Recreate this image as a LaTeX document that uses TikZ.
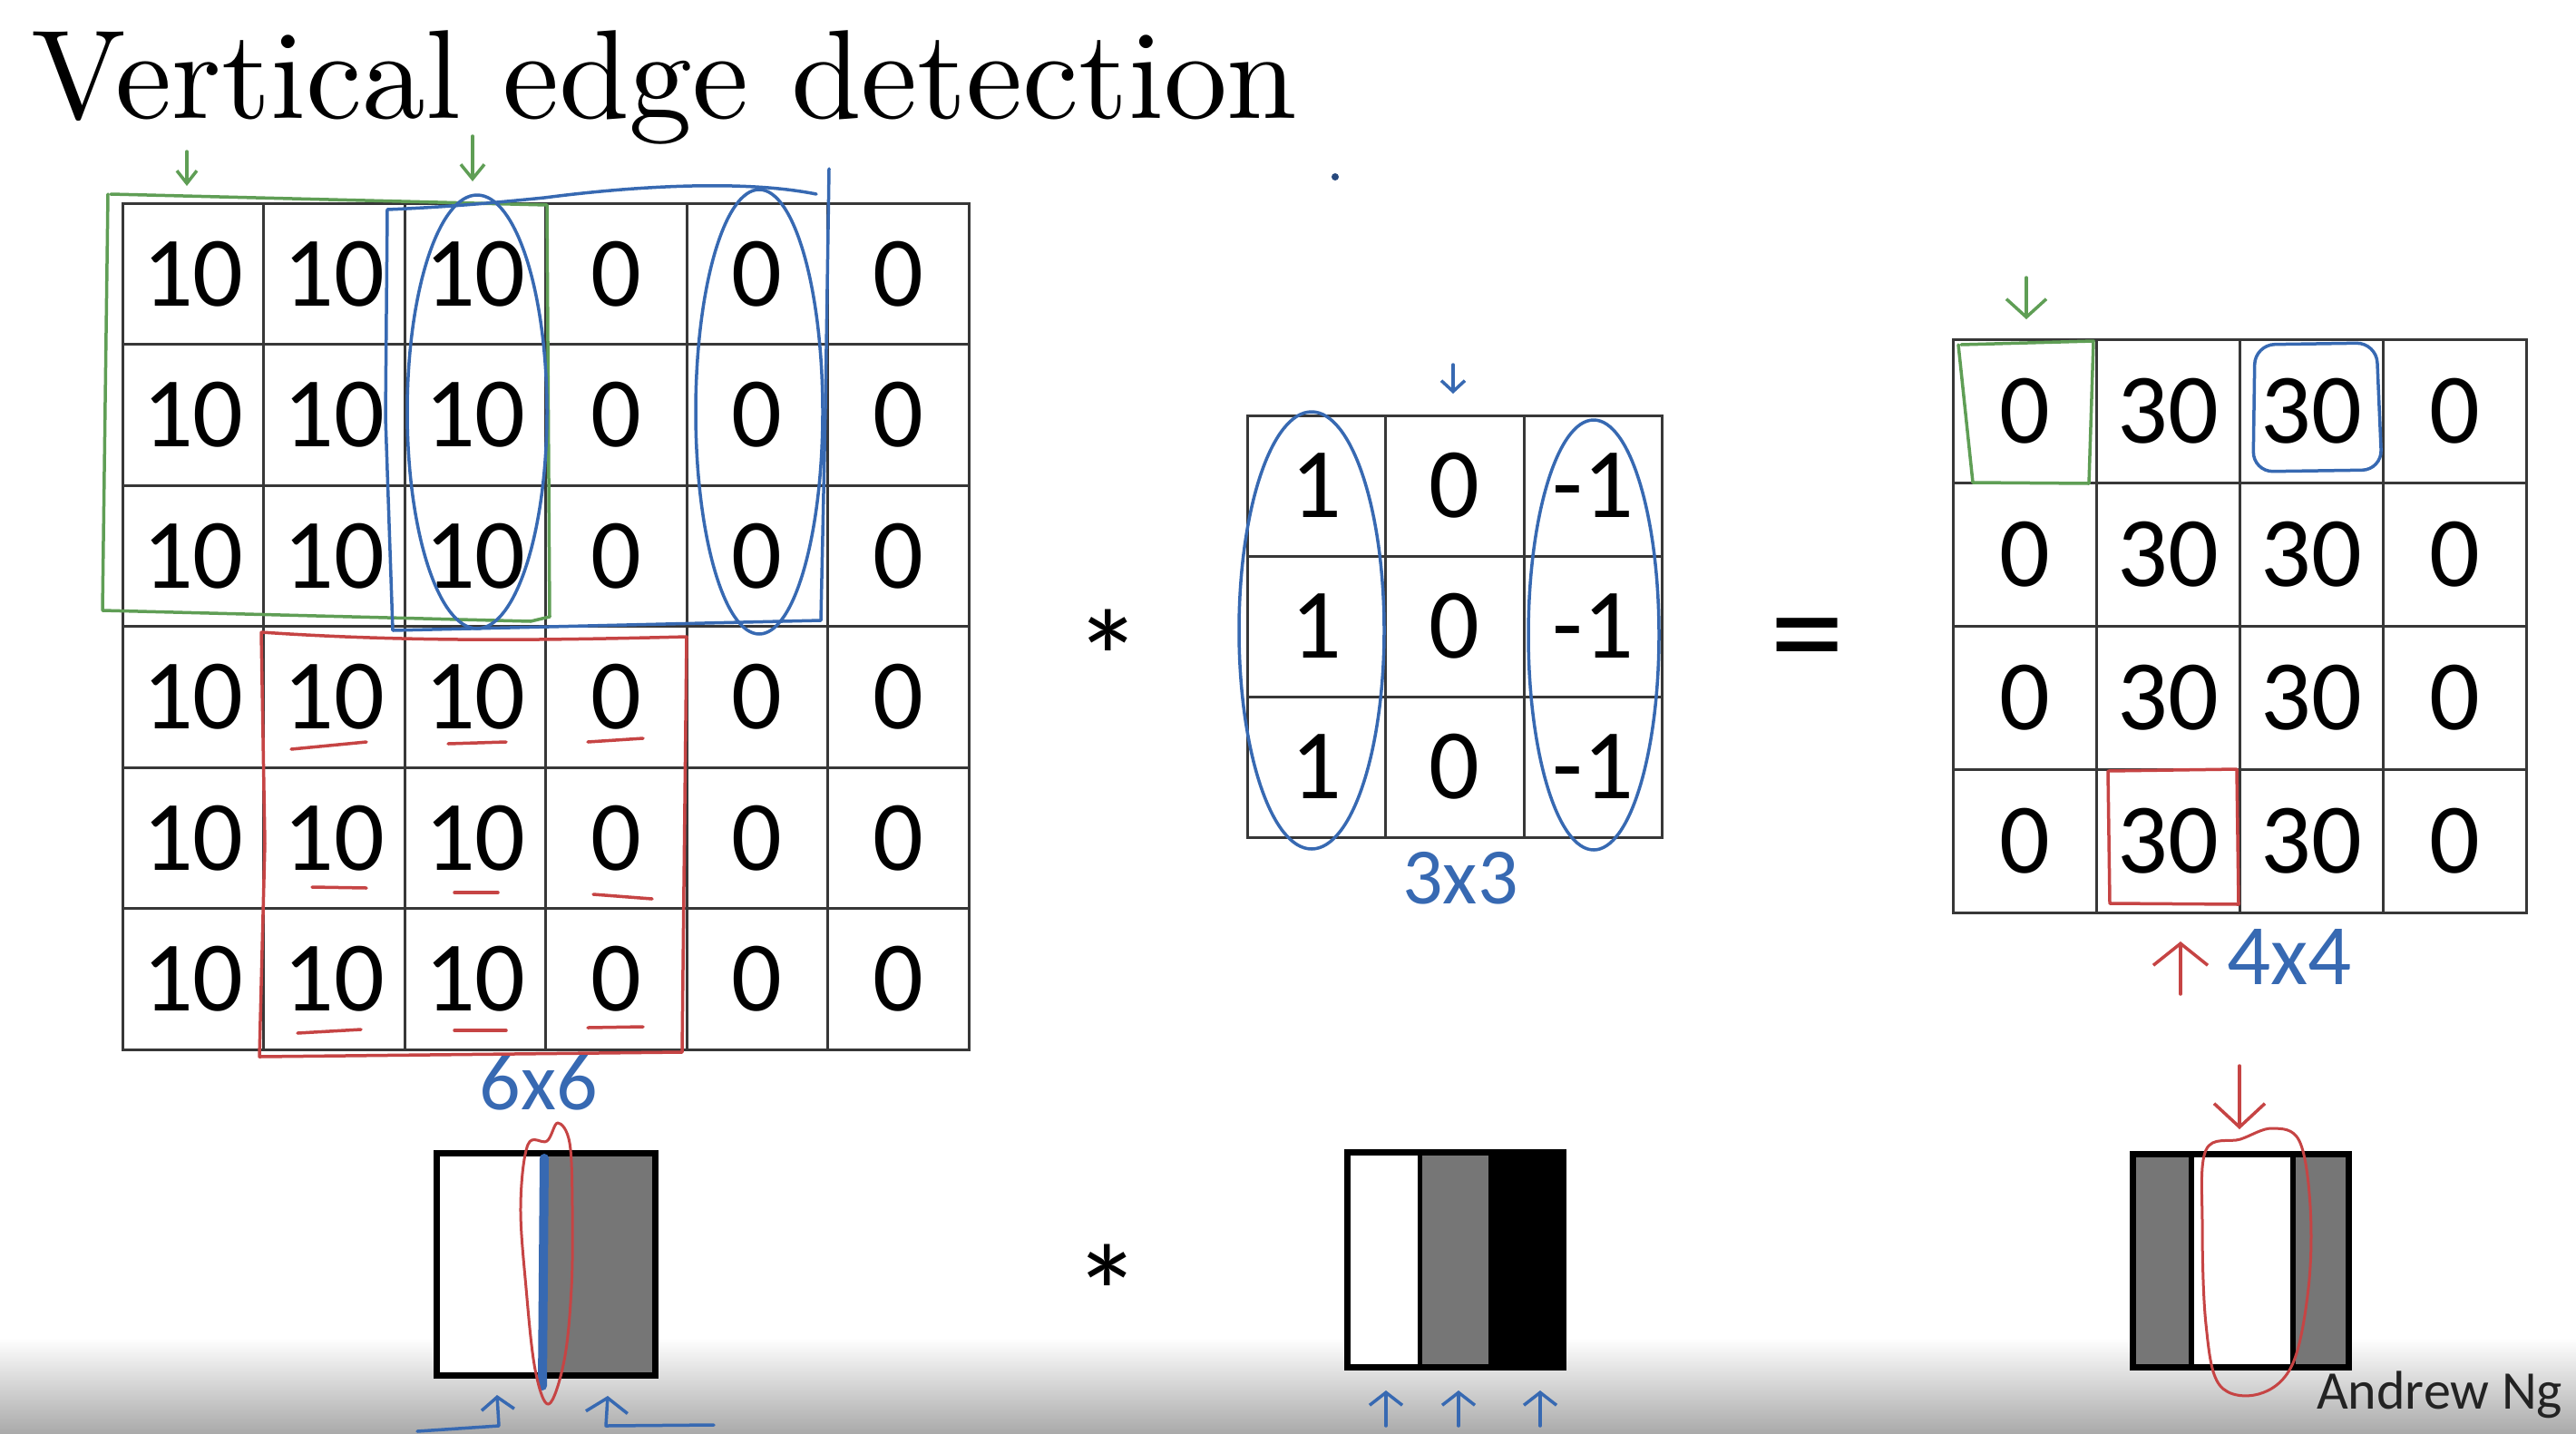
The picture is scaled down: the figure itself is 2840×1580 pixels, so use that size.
\documentclass[tikz,border=0pt]{standalone}
\usepackage{fontspec}
\newfontfamily\numfont{Carlito}
\newfontfamily\titlefont{lmroman10-regular.otf}
\usetikzlibrary{arrows.meta}
\definecolor{gridc}{RGB}{55,55,55}
\definecolor{pgreen}{RGB}{95,158,85}
\definecolor{pblue}{RGB}{55,105,178}
\definecolor{pred}{RGB}{198,68,68}
\definecolor{imgg}{RGB}{118,118,118}
\definecolor{shadeg}{RGB}{170,170,170}
\tikzset{
  cellbase/.style={draw=gridc, line width=3pt, inner sep=0pt, font=\numfont\fontsize{110}{110}\selectfont},
  cellbig/.style={cellbase, minimum width=155.5pt, minimum height=155.5pt},
  cellf/.style={cellbase, minimum width=152.5pt, minimum height=155pt},
  cello/.style={cellbase, minimum width=158pt, minimum height=158pt},
  pen/.style={line width=3.5pt, line cap=round, line join=round},
  hand/.style={font=\numfont\fontsize{#1}{#1}\selectfont, text=pblue, inner sep=0pt},
  imgborder/.style={line width=7pt, line join=miter},
  opsym/.style={anchor=base, inner sep=0pt, font=\numfont\fontsize{#1}{#1}\selectfont},
}
\begin{document}
\begin{tikzpicture}[x=1pt,y=-1pt]
\useasboundingbox (0,0) rectangle (2840,1580);
\fill[white] (0,0) rectangle (2840,1580);
\shade[top color=white, bottom color=shadeg] (0,1475) rectangle (2840,1580);

% title
\node[anchor=base west, inner sep=0pt, font=\titlefont\fontsize{139.6}{140}\selectfont] (title) at (34,130) {Vertical edge detection};

% 6x6 image
\foreach \r in {1,...,6} {
  \foreach \v [count=\c] in {10,10,10,0,0,0} {
    \node[cellbig] (A\r\c) at ({135+155.5*(\c-0.5)},{224+155.5*(\r-0.5)}) {\v};
  }
}
% 3x3 filter
\foreach \r in {1,2,3} {
  \foreach \v [count=\c] in {1,0,-1} {
    \node[cellf] (F\r\c) at ({1375+152.5*(\c-0.5)},{458+155*(\r-0.5)}) {\v};
  }
}
% 4x4 output
\foreach \r in {1,...,4} {
  \foreach \v [count=\c] in {0,30,30,0} {
    \node[cello] (O\r\c) at ({2153+158*(\c-0.5)},{374+158*(\r-0.5)}) {\v};
  }
}

% operators
\node[opsym=150] (star1) at (1222,778) {*};
\node[opsym=165] (eq1) at (1993,752) {=};
\node[opsym=150] (star2) at (1221,1478) {*};

% size labels
\node[hand=90] (l6) at (594,1193) {6x6};
\node[hand=88] (l3) at (1610,968) {3x3};
\node[hand=95] (l4) at (2524,1055) {4x4};

% author
\node[anchor=base west, inner sep=0pt, text={rgb,255:red,35;green,35;blue,35}, font=\numfont\fontsize{60}{60}\selectfont] (author) at (2554,1553) {Andrew Ng};

% ---- annotations on the 6x6 ----
% green
\draw[pen, pgreen] (122,214) -- (603,226) -- (606,680) -- (585,685) -- (113,673) -- (119,214);
\coordinate (ga1) at (206,167); \coordinate (gb1) at (206,205);
\coordinate (ga2) at (521,150); \coordinate (gb2) at (521,200);
\draw[pen, pgreen, -{Straight Barb[length=14pt,width=22pt]}] (ga1) -- (gb1);
\draw[pen, pgreen, -{Straight Barb[length=16pt,width=26pt]}] (ga2) -- (gb2);
% blue
\draw[pen, pblue] (914,186) -- (910,450) -- (905,684) -- (433,695) -- (425,460) -- (427,231)
  .. controls (500,228) and (560,222) .. (600,218) .. controls (700,205) and (820,198) .. (900,214);
\draw[pen, pblue] (526,454) ellipse [x radius=77, y radius=239];
\draw[pen, pblue] (837,454) ellipse [x radius=70, y radius=245];
\fill[pblue!70!black] (1472,195) circle (4);
% red
\draw[pen, pred] (288,697) .. controls (450,708) and (600,706) .. (757,702) -- (752,1160) -- (286,1165) -- (292,930) -- (288,697);
\foreach \a/\b in {{(321,826)}/{(404,818)}, {(494,820)}/{(558,818)}, {(648,818)}/{(709,814)},
                   {(344,978)}/{(404,979)}, {(501,984)}/{(549,984)}, {(654,986)}/{(719,991)},
                   {(328,1139)}/{(398,1135)}, {(501,1136)}/{(558,1136)}, {(648,1133)}/{(709,1132)}} {
  \draw[pen, pred] \a -- \b;
}

% ---- annotations on the filter ----
\draw[pen, pblue] (1446,695) ellipse [x radius=80, y radius=241];
\draw[pen, pblue] (1757,700) ellipse [x radius=72, y radius=237];
\coordinate (fa) at (1602,402); \coordinate (fb) at (1602,434);
\draw[pen, pblue, -{Straight Barb[length=12pt,width=26pt]}] (fa) -- (fb);

% ---- annotations on the output ----
\draw[pen, pgreen] (2162,380) -- (2308,376) -- (2303,533) -- (2175,532) -- (2159,380);
\coordinate (oga) at (2234,306); \coordinate (ogb) at (2234,352);
\draw[pen, pgreen, -{Straight Barb[length=20pt,width=44pt]}] (oga) -- (ogb);
\draw[pen, pblue, rounded corners=22pt] (2486,380) -- (2620,378) -- (2626,518) -- (2484,520) -- cycle;
\draw[pen, pred] (2324,850) -- (2466,848) -- (2468,997) -- (2326,996) -- cycle;
\coordinate (ora) at (2404,1096); \coordinate (orb) at (2404,1038);
\draw[pen, pred, -{Straight Barb[length=24pt,width=60pt]}] (ora) -- (orb);

% ---- bottom images ----
% left image
\fill[white] (481,1271) rectangle (600,1516);
\fill[imgg] (600,1271) rectangle (722,1516);
\draw[imgborder] (481,1271) rectangle (722,1516);
\draw[pblue, line width=10pt, line cap=round] (600,1277) -- (598,1528);
\draw[pen, line width=3pt, pred] plot[smooth cycle, tension=0.6] coordinates {
  (603,1258) (615,1238) (628,1260) (631,1330) (630,1420) (622,1500) (605,1548) (590,1510) (580,1420) (574,1330) (582,1262)};
\coordinate (bl1) at (460,1578); \coordinate (bl2) at (550,1572); \coordinate (bl3) at (548,1538);
\draw[pen, pblue, -{Straight Barb[length=14pt,width=36pt]}] (bl1) -- (bl2) -- (bl3);
\coordinate (br1) at (787,1571); \coordinate (br2) at (668,1572); \coordinate (br3) at (670,1539);
\draw[pen, pblue, -{Straight Barb[length=16pt,width=46pt]}] (br1) -- (br2) -- (br3);
% middle image
\fill[white] (1485,1270) rectangle (1565,1507);
\fill[imgg] (1565,1270) rectangle (1641,1507);
\fill[black] (1641,1270) rectangle (1723,1507);
\draw[line width=5pt] (1565,1270) -- (1565,1507);
\draw[imgborder] (1485,1270) rectangle (1723,1507);
\foreach \x in {1528,1608,1698} {
  \draw[pen, pblue, -{Straight Barb[length=14pt,width=36pt]}] (\x,1572) -- (\x,1533);
}
% right image
\fill[imgg] (2351,1272) rectangle (2416,1507);
\fill[white] (2416,1272) rectangle (2528,1507);
\fill[imgg] (2528,1272) rectangle (2589,1507);
\draw[line width=6pt] (2416,1272) -- (2416,1507);
\draw[line width=6pt] (2528,1272) -- (2528,1507);
\draw[imgborder] (2351,1272) rectangle (2589,1507);
\draw[pen, line width=3pt, pred] plot[smooth cycle, tension=0.6] coordinates {
  (2432,1268) (2470,1256) (2505,1244) (2535,1258) (2547,1330) (2545,1420) (2527,1505) (2490,1537) (2447,1527) (2432,1460) (2428,1350)};
\coordinate (rda) at (2469,1175); \coordinate (rdb) at (2469,1245);
\draw[pen, pred, -{Straight Barb[length=26pt,width=56pt]}] (rda) -- (rdb);
\end{tikzpicture}
\end{document}
